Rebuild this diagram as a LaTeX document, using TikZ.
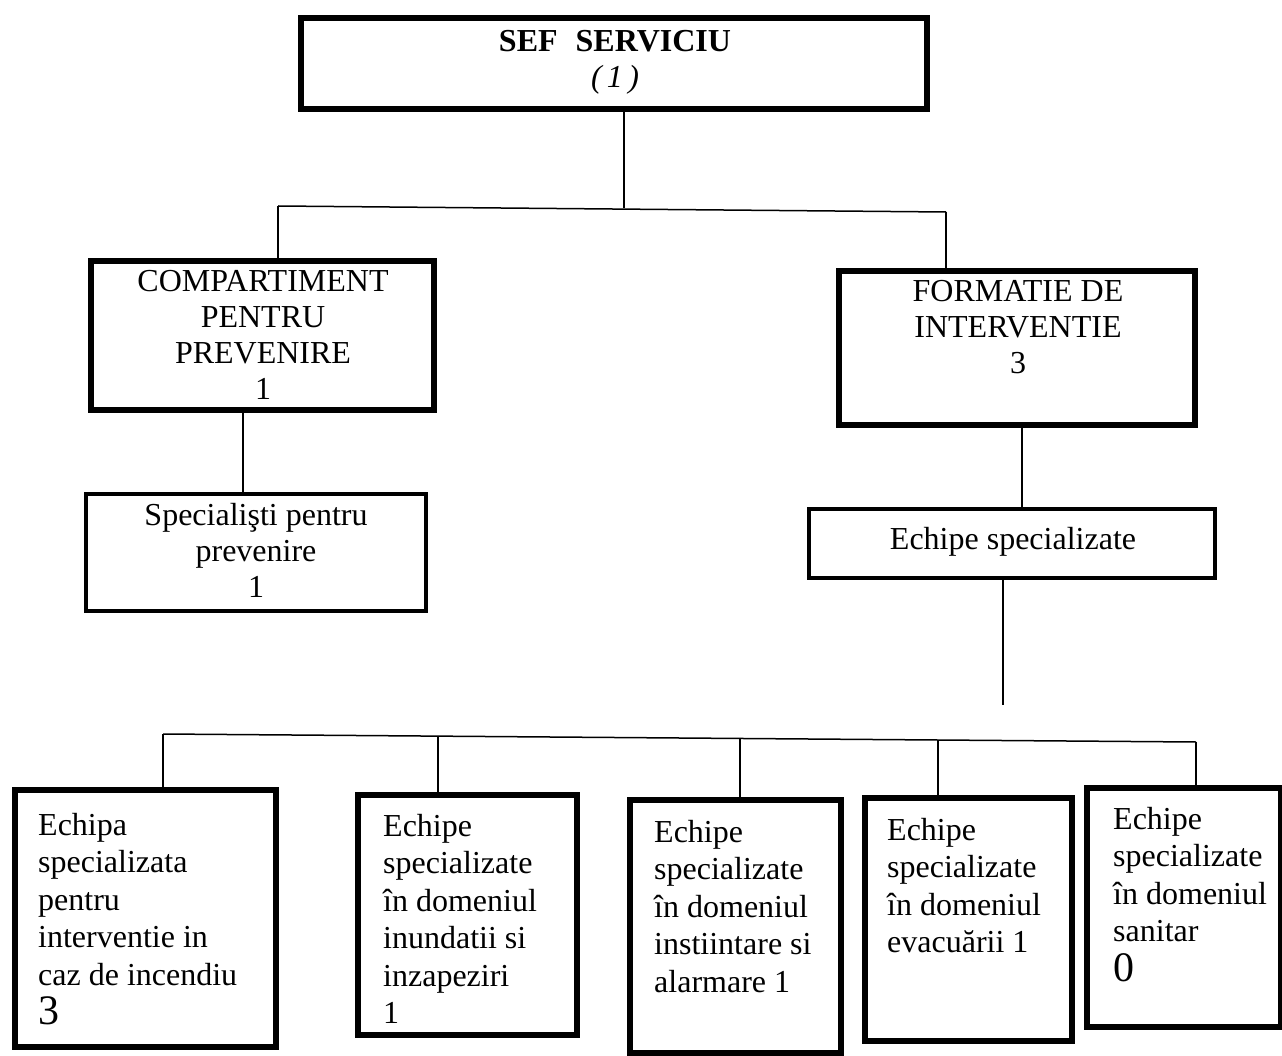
\documentclass[tikz,border=0pt]{standalone}
\usepackage{fontspec}
\setmainfont{Liberation Serif}
\begin{document}
\begin{tikzpicture}[x=1pt,y=-1pt,
  box/.style={draw, rectangle, line width=5.5pt, inner sep=0pt},
  thinbox/.style={draw, rectangle, line width=4pt, inner sep=0pt},
  conn/.style={line width=1.5pt},
  txt/.style={inner sep=0pt, font=\fontsize{32}{37.5}\selectfont}
]
\useasboundingbox[fill=white] (0,0) rectangle (1282,1056);

% boxes
\node[box, minimum width=626pt, minimum height=91pt] (sef) at (614,63.5) {};
\node[box, minimum width=343pt, minimum height=149pt] (comp) at (262.5,335.5) {};
\node[thinbox, minimum width=340pt, minimum height=117pt] (spec) at (256,552.5) {};
\node[box, minimum width=356pt, minimum height=154pt] (form) at (1017,348) {};
\node[thinbox, minimum width=406pt, minimum height=69pt] (ech) at (1012,543.5) {};
\node[box, minimum width=261pt, minimum height=257pt] (b1) at (145.5,918.5) {};
\node[box, minimum width=219pt, minimum height=240pt] (b2) at (467.5,915) {};
\node[box, minimum width=211pt, minimum height=253pt] (b3) at (735.5,926.5) {};
\node[box, minimum width=207pt, minimum height=243pt] (b4) at (968.5,919.5) {};
\node[box, minimum width=194pt, minimum height=239pt] (b5) at (1184,907.5) {};

% texts
\node[txt, align=center, anchor=north, font=\fontsize{32}{36}\selectfont] (sefT) at (615,30)
  {\textbf{SEF\hspace{18pt}SERVICIU}\\\textit{(\,1\,)}};
\node[txt, align=center, anchor=north, font=\fontsize{32}{36}\selectfont] (compT) at (263,270)
  {COMPARTIMENT\\PENTRU\\PREVENIRE\\1};
\node[txt, align=center, anchor=north, font=\fontsize{32}{36}\selectfont] (specT) at (256,503)
  {Specialişti pentru\\prevenire\\1};
\node[txt, align=center, anchor=north, font=\fontsize{32}{36}\selectfont] (formT) at (1018,280)
  {FORMATIE DE\\INTERVENTIE\\3};
\node[txt, anchor=center] (echT) at (1013,542) {Echipe specializate};

\node[txt, align=left, anchor=north west] (b1T) at (38,813)
  {Echipa\\specializata\\pentru\\interventie in\\caz de incendiu\\[2pt]{\fontsize{42}{37}\selectfont 3}};
\node[txt, align=left, anchor=north west] (b2T) at (383,814)
  {Echipe\\specializate\\în domeniul\\inundatii si\\inzapeziri\\1};
\node[txt, align=left, anchor=north west] (b3T) at (654,820)
  {Echipe\\specializate\\în domeniul\\instiintare si\\alarmare 1};
\node[txt, align=left, anchor=north west] (b4T) at (887,818)
  {Echipe\\specializate\\în domeniul\\evacuării 1};
\node[txt, align=left, anchor=north west] (b5T) at (1113,807)
  {Echipe\\specializate\\în domeniul\\sanitar\\[2pt]{\fontsize{42}{37}\selectfont 0}};

% connectors
\coordinate (tb) at (624,208);
\coordinate (tl) at (278,206);
\coordinate (tr) at (946,212);
\draw[conn] (sef.south -| tb) -- (tb);
\draw[conn] (tl) -- (tr);
\draw[conn] (tl) -- (tl |- comp.north);
\draw[conn] (tr) -- (tr |- form.north);

\coordinate (cx) at (243,450);
\draw[conn] (comp.south -| cx) -- (spec.north -| cx);
\coordinate (fx) at (1022,470);
\draw[conn] (form.south -| fx) -- (ech.north -| fx);
\coordinate (ee) at (1003,705);
\draw[conn] (ech.south -| ee) -- (ee);

\coordinate (bl) at (163,734);
\coordinate (br) at (1196,742);
\coordinate (j2) at (438,736);
\coordinate (j3) at (740,738);
\coordinate (j4) at (938,740);
\draw[conn] (bl) -- (br);
\draw[conn] (bl) -- (bl |- b1.north);
\draw[conn] (j2) -- (j2 |- b2.north);
\draw[conn] (j3) -- (j3 |- b3.north);
\draw[conn] (j4) -- (j4 |- b4.north);
\draw[conn] (br) -- (br |- b5.north);
\end{tikzpicture}
\end{document}
